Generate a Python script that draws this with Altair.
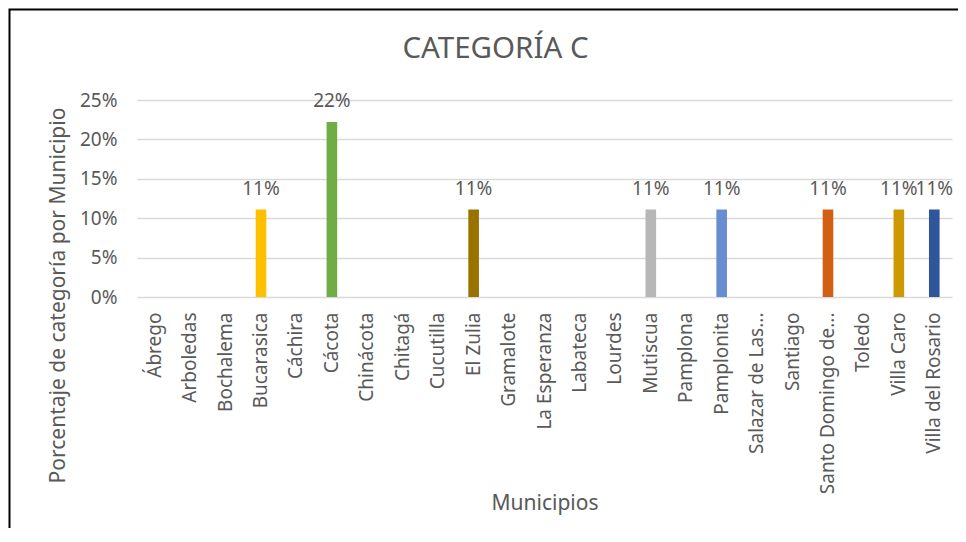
import altair as alt
import pandas as pd

municipios = ["Ábrego", "Arboledas", "Bochalema", "Bucarasica", "Cáchira", "Cácota",
              "Chinácota", "Chitagá", "Cucutilla", "El Zulia", "Gramalote", "La Esperanza",
              "Labateca", "Lourdes", "Mutiscua", "Pamplona", "Pamplonita", "Salazar de Las...",
              "Santiago", "Santo Domingo de...", "Toledo", "Villa Caro", "Villa del Rosario"]
porcentajes = [0, 0, 0, 0.111, 0, 0.222, 0, 0, 0, 0.111, 0, 0, 0, 0, 0.111, 0, 0.111, 0, 0,
               0.111, 0, 0.111, 0.111]
colores = ["#4472C4", "#ED7D31", "#A5A5A5", "#FFC000", "#5B9BD5", "#70AD47",
           "#264478", "#9E480E", "#636363", "#997300", "#255E91", "#43682B",
           "#698ED0", "#F1975A", "#B7B7B7", "#FFCD33", "#698ED0", "#8CC168",
           "#335AA1", "#D26012", "#848484", "#CC9A00", "#2F559A"]
ticks_y = [0, 0.05, 0.1, 0.15, 0.2, 0.25]

df = pd.DataFrame({"Municipio": municipios, "Porcentaje": porcentajes})

FONT = "Noto Sans"
GRAY = "#595959"

x = alt.X("Municipio:N", sort=municipios,
          scale=alt.Scale(paddingInner=0.7, paddingOuter=0.35),
          axis=alt.Axis(title="Municipios", labelAngle=270, labelFontSize=19,
                        labelColor=GRAY, labelFont=FONT, labelPadding=15, ticks=False,
                        domain=False, grid=False, titleFontSize=21, titleColor=GRAY,
                        titleFont=FONT, titleFontWeight="normal", titleY=206,
                        titleBaseline="middle", labelLimit=300))
y = alt.Y("Porcentaje:Q", scale=alt.Scale(domain=[0, 0.25], nice=False),
          axis=alt.Axis(format=".0%", values=ticks_y,
                        title="Porcentaje de categoría por Municipio",
                        grid=True, gridColor="#D9D9D9", gridWidth=1.3, domain=False,
                        ticks=False, labelPadding=20, labelFontSize=19, labelColor=GRAY,
                        labelFont=FONT, titleFontSize=21, titleColor=GRAY, titleFont=FONT,
                        titleFontWeight="normal", titleAngle=270, titleX=-79, titleY=195,
                        titleAlign="center", titleBaseline="middle"))

bars = alt.Chart(df).mark_bar().encode(
    x=x, y=y,
    color=alt.Color("Municipio:N", scale=alt.Scale(domain=municipios, range=colores),
                    legend=None))

labels = alt.Chart(df).transform_filter("datum.Porcentaje > 0").mark_text(
    dy=-15, baseline="alphabetic", fontSize=19, color=GRAY, font=FONT
).encode(x=x, y=y, text=alt.Text("Porcentaje:Q", format=".0%"))

border = alt.Chart(pd.DataFrame({"k": [0]})).mark_rect(
    fillOpacity=0, stroke="#000000", strokeWidth=2
).encode(x=alt.value(-127.5), x2=alt.value(1100), y=alt.value(-90.5), y2=alt.value(700))

chart = alt.layer(bars, labels, border).properties(
    width=815, height=197,
    title=alt.TitleParams("CATEGORÍA C", fontSize=29.5, color=GRAY, font=FONT,
                          fontWeight="normal", anchor="middle", dx=-49, dy=60),
    autosize=alt.AutoSizeParams(type="none"),
    padding={"left": 129, "top": 92, "right": 6, "bottom": 231},
    background="white",
).configure_view(stroke=None)

chart.save("out.html", embed_options={"renderer": "svg", "actions": False})
